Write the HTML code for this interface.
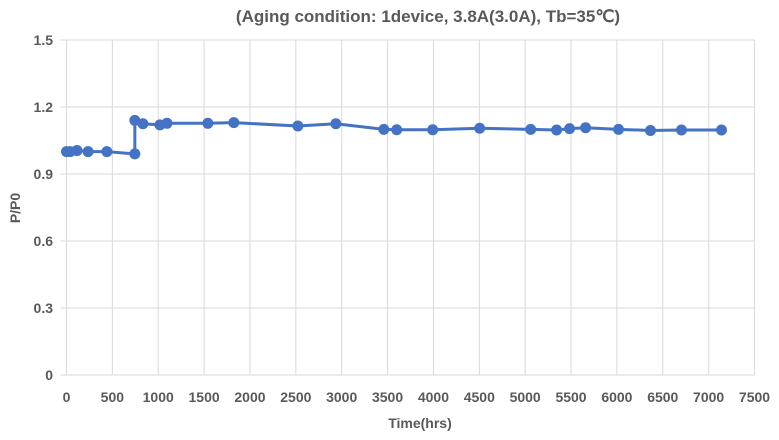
<!DOCTYPE html>
<html><head><meta charset="utf-8"><style>
body{margin:0;background:#fff;}
svg text{font-family:"Liberation Sans",sans-serif;fill:#595959;font-weight:bold;}
</style></head><body>
<svg width="779" height="435" id="c">
<text x="428" y="22" text-anchor="middle" font-size="17">(Aging condition:  1device, 3.8A(3.0A), Tb=35℃)</text>
<text x="420" y="428" text-anchor="middle" font-size="14">Time(hrs)</text>
<text transform="translate(20,208) rotate(-90)" text-anchor="middle" font-size="14">P/P0</text>
<g id="grid"></g><g id="series"></g>
</svg>
<script>
const xTicks=[0,500,1000,1500,2000,2500,3000,3500,4000,4500,5000,5500,6000,6500,7000,7500];
const yTicks=[0,0.3,0.6,0.9,1.2,1.5];
const yTickLabels=["0","0.3","0.6","0.9","1.2","1.5"];
const hours=[0,40,115,235,440,745,745,833,1018,1095,1541,1824,2522,2936,3459,3600,3992,4504,5060,5343,5484,5659,6018,6366,6704,7140];
const ratio=[1.0,1.0,1.005,1.0,1.0,0.99,1.14,1.125,1.12,1.127,1.127,1.13,1.115,1.125,1.1,1.098,1.098,1.105,1.1,1.097,1.103,1.107,1.1,1.095,1.097,1.097];
const X=v=>66.5+v/7500*688, Y=v=>375-v/1.5*335;
const ns="http://www.w3.org/2000/svg";
const g=document.getElementById('grid'), s=document.getElementById('series');
function mk(t,a,p){const e=document.createElementNS(ns,t);for(const k in a)e.setAttribute(k,a[k]);p.appendChild(e);return e;}
xTicks.forEach(v=>{
 const l=mk('line',{x1:X(v),x2:X(v),y1:Y(1.5),y2:Y(0),stroke:'#d9d9d9'},g);
 
 
 const t=mk('text',{x:X(v),y:402,'text-anchor':'middle','font-size':'14'},g);t.textContent=v;
 
 
});
yTicks.forEach((v,i)=>{
 const l=mk('line',{x1:X(0)-6,x2:X(7500),y1:Y(v),y2:Y(v),stroke:'#d9d9d9'},g);
 
 
 const t=mk('text',{x:53,y:Y(v)+5,'text-anchor':'end','font-size':'14'},g);t.textContent=yTickLabels[i];
 
 
});
const pl=mk('polyline',{points:hours.map((h,i)=>X(h)+','+Y(ratio[i])).join(' '),fill:'none',stroke:'#4472c4','stroke-width':'3'},s);


hours.forEach((h,i)=>{
 const c=mk('circle',{cx:X(h),cy:Y(ratio[i]),r:5.5,fill:'#4472c4'},s);
 
 
});
</script>
</body></html>
